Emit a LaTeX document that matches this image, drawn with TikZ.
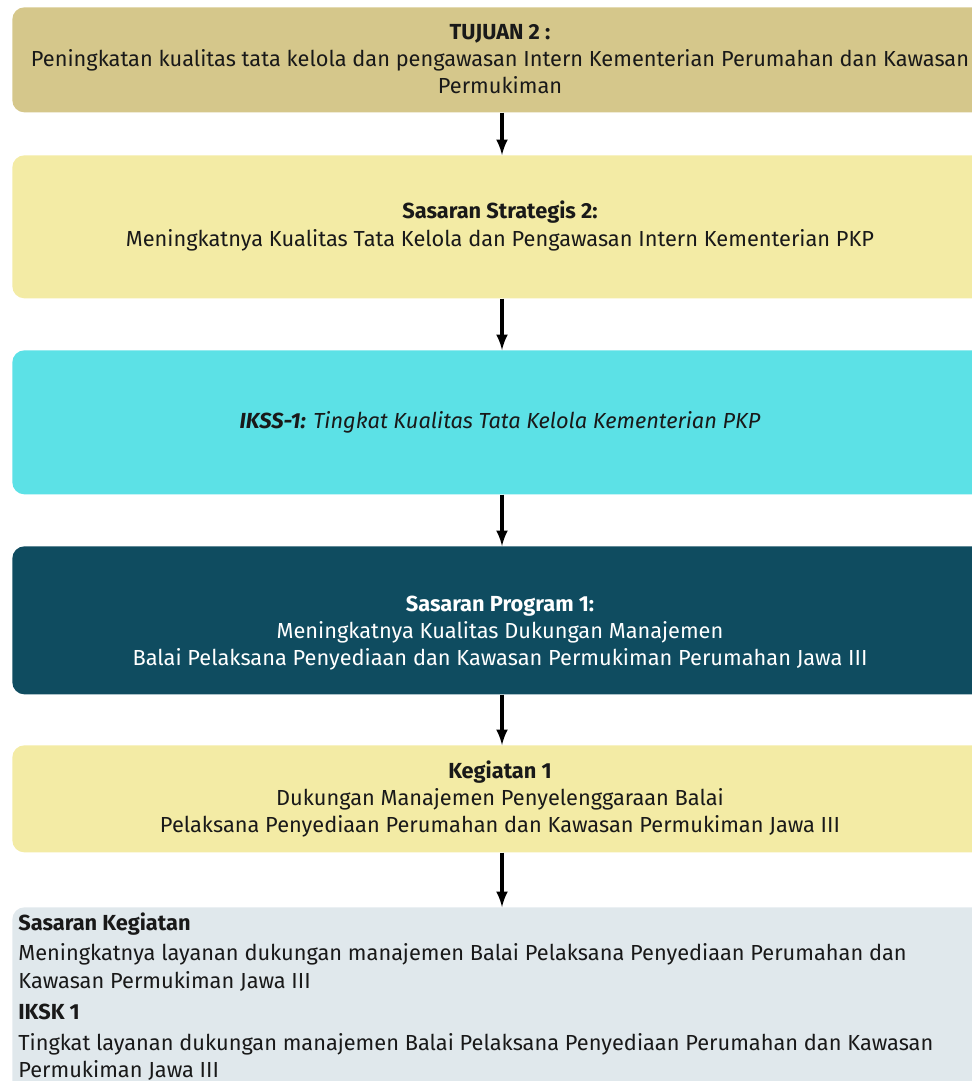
\documentclass[tikz,border=0pt]{standalone}
\usepackage{fontspec}
\setmainfont{Fira Sans}
\usepackage{xcolor}
\definecolor{khaki}{RGB}{213,199,139}
\definecolor{paleyellow}{RGB}{243,235,165}
\definecolor{cyanbox}{RGB}{92,225,230}
\definecolor{darkteal}{RGB}{15,76,96}
\definecolor{palegray}{RGB}{224,232,236}
\definecolor{inktext}{RGB}{25,25,25}
\tikzset{
  boxstyle/.style={draw=none, rounded corners=0.24cm, minimum width=19.56cm, anchor=north west},
  txt/.style={align=center, text=inktext, font=\fontsize{12.4}{15.6}\selectfont},
  flowarrow/.style={->, >=latex, line width=2pt}
}
\begin{document}
\begin{tikzpicture}[x=0.02cm, y=-0.02cm]
\useasboundingbox (0,0) rectangle (971,1081);

\node [boxstyle, fill=khaki, minimum height=2.1cm] (b1) at (12,7) {};
\node [boxstyle, fill=paleyellow, minimum height=2.86cm] (b2) at (12,155) {};
\node [boxstyle, fill=cyanbox, minimum height=2.88cm] (b3) at (12,350) {};
\node [boxstyle, fill=darkteal, minimum height=2.96cm] (b4) at (12,546) {};
\node [boxstyle, fill=paleyellow, minimum height=2.14cm] (b5) at (12,745) {};
\node [boxstyle, fill=palegray, minimum height=4.4cm] (b6) at (12,907) {};

\node [txt] (t1) at (500,59) {\textbf{TUJUAN 2 :}\\Peningkatan kualitas tata kelola dan pengawasan Intern Kementerian Perumahan dan Kawasan\\Permukiman};
\node [txt] (t2) at (500,226) {\textbf{Sasaran Strategis 2:}\\Meningkatnya Kualitas Tata Kelola dan Pengawasan Intern Kementerian PKP};
\node [txt] (t3) at (500,422) {\textit{\textbf{IKSS-1:} Tingkat Kualitas Tata Kelola Kementerian PKP}};
\node [txt, text=white] (t4) at (500,633) {\textbf{Sasaran Program 1:}\\Meningkatnya Kualitas Dukungan Manajemen\\Balai Pelaksana Penyediaan dan Kawasan Permukiman Perumahan Jawa III};
\node [txt] (t5) at (500,799) {\textbf{Kegiatan 1}\\Dukungan Manajemen Penyelenggaraan Balai\\Pelaksana Penyediaan Perumahan dan Kawasan Permukiman Jawa III};
\node [txt, align=left, anchor=north west, inner sep=0pt] (t6) at (18,912) {\textbf{Sasaran Kegiatan}\\[2pt]
Meningkatnya layanan dukungan manajemen Balai Pelaksana Penyediaan Perumahan dan\\
Kawasan Permukiman Jawa III\\[2pt]
\textbf{IKSK 1}\\[2pt]
Tingkat layanan dukungan manajemen Balai Pelaksana Penyediaan Perumahan dan Kawasan\\
Permukiman Jawa III};

\draw [flowarrow] (b1.south -| 502,0) -- (b2.north -| 502,0);
\draw [flowarrow] (b2.south -| 502,0) -- (b3.north -| 502,0);
\draw [flowarrow] (b3.south -| 502,0) -- (b4.north -| 502,0);
\draw [flowarrow] (b4.south -| 502,0) -- (b5.north -| 502,0);
\draw [flowarrow] (b5.south -| 502,0) -- (b6.north -| 502,0);

\end{tikzpicture}
\end{document}
